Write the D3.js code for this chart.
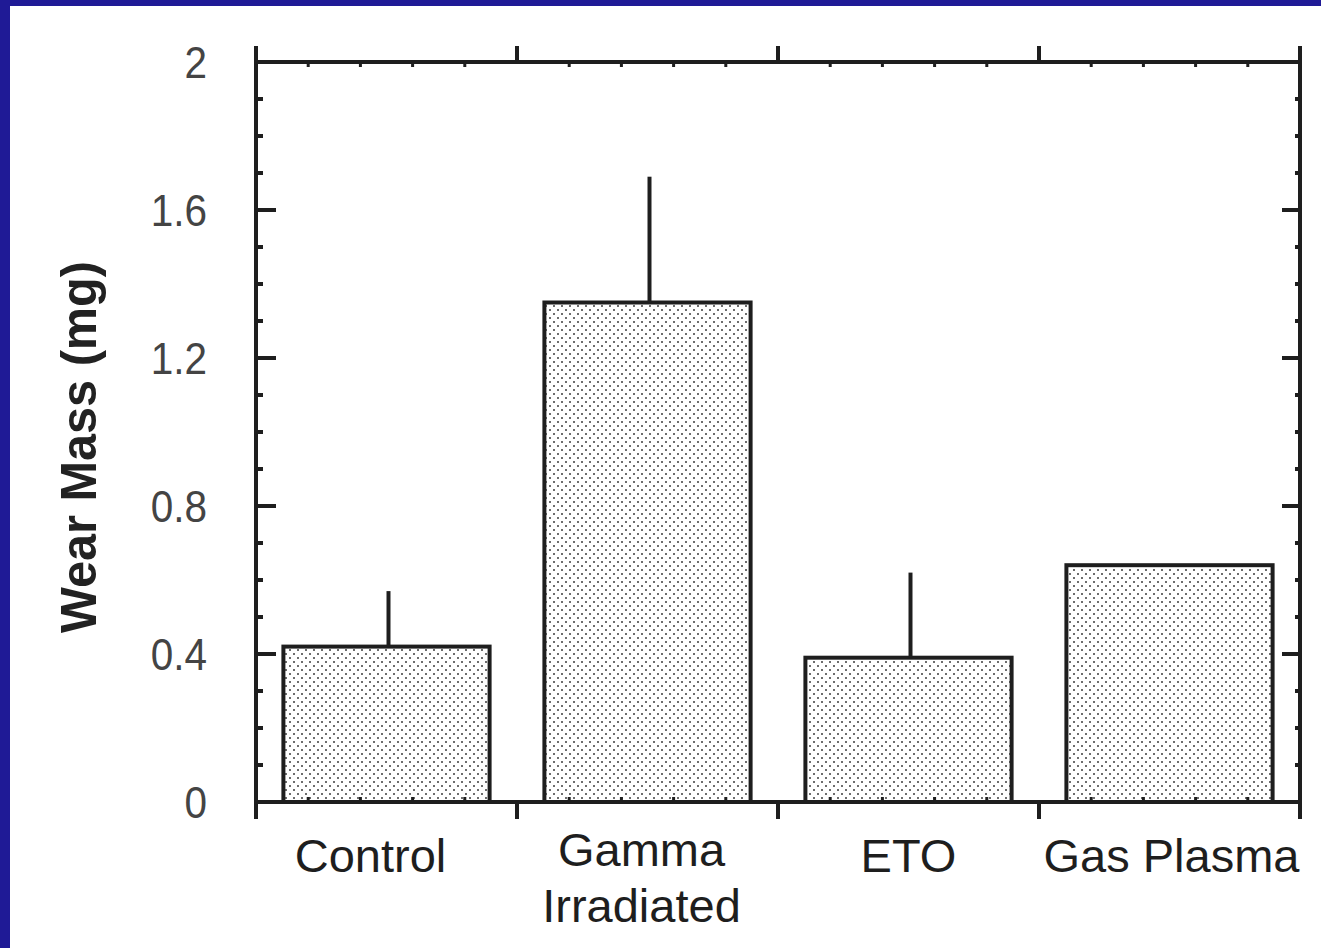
<!doctype html>
<html lang="en">
  <head>
    <meta charset="utf-8">
    <title>Wear Mass</title>
    <script src="https://d3js.org/d3.v7.min.js"></script>
    <style>
      body { margin: 0; background: #fff; }
      text { font-family: "Liberation Sans", Arial, sans-serif; }
    </style>
  </head>
  <body>
    <svg width="1321" height="948"></svg>
    <script>
      // data
      var categories = ['Control', 'Gamma', 'ETO', 'Gas Plasma'];
      var categoryLabels = [['Control'], ['Gamma', 'Irradiated'], ['ETO'], ['Gas Plasma']];
      var wearMass = [0.42, 1.35, 0.39, 0.64];
      var wearErr  = [0.15, 0.34, 0.23, 0];
      var yTicks = [0, 0.4, 0.8, 1.2, 1.6, 2];
      var yTickLabels = ['0', '0.4', '0.8', '1.2', '1.6', '2'];

      var svg = d3.select('svg');
      var plotL = 256, plotR = 1300, plotT = 62, plotB = 802;
      // the slide nudges a couple of labels off-centre
      var labelShift = [-16, -6, 0, 2];

      // blue slide frame
      svg.append('rect').attr('x', 0).attr('y', 0).attr('width', 1321).attr('height', 948).attr('fill', '#1f1a96');
      svg.append('rect').attr('x', 10).attr('y', 6).attr('width', 1311).attr('height', 942).attr('fill', '#fff');

      var defs = svg.append('defs');
      var pat = defs.append('pattern')
        .attr('id', 'dots')
        .attr('patternUnits', 'userSpaceOnUse')
        .attr('width', 8).attr('height', 8);
      pat.append('rect').attr('width', 8).attr('height', 8).attr('fill', '#fff');
      pat.append('circle').attr('cx', 2).attr('cy', 2).attr('r', 1).attr('fill', '#3c3c3c');
      pat.append('circle').attr('cx', 6).attr('cy', 6).attr('r', 1).attr('fill', '#3c3c3c');

      var x = d3.scaleBand()
        .domain(categories)
        .range([plotL, plotR])
        .paddingInner(0.21)
        .paddingOuter(0.105);

      var xb = d3.scaleLinear().domain([0, categories.length]).range([plotL, plotR]);
      var y = d3.scaleLinear().domain([0, 2]).range([plotB, plotT]);

      var ink = '#1e1e1e';

      // bars
      svg.selectAll('rect.bar')
        .data(wearMass)
        .enter()
        .append('rect')
          .attr('class', 'bar')
          .attr('x', function(d, i){ return x(categories[i]); })
          .attr('y', function(d){ return y(d); })
          .attr('width', x.bandwidth())
          .attr('height', function(d){ return y(0) - y(d); })
          .attr('fill', 'url(#dots)')
          .attr('stroke', ink)
          .attr('stroke-width', 4);

      // error bars, upward only
      var errIdx = d3.range(categories.length).filter(function(i){ return wearErr[i] > 0; });
      svg.selectAll('line.err')
        .data(errIdx)
        .enter()
        .append('line')
          .attr('class', 'err')
          .attr('x1', function(i){ return x(categories[i]) + x.bandwidth() / 2 + 2; })
          .attr('x2', function(i){ return x(categories[i]) + x.bandwidth() / 2 + 2; })
          .attr('y1', function(i){ return y(wearMass[i]); })
          .attr('y2', function(i){ return y(wearMass[i] + wearErr[i]); })
          .attr('stroke', ink)
          .attr('stroke-width', 4);

      // frame
      var frame = svg.append('g').attr('stroke', ink).attr('stroke-width', 4);
      frame.append('rect')
        .attr('x', plotL).attr('y', plotT)
        .attr('width', plotR - plotL).attr('height', plotB - plotT)
        .attr('fill', 'none');

      // x ticks: major outward, minor inward
      var xMajor = d3.range(0, categories.length + 1);
      var xMinor = d3.range(0, categories.length, 0.2).filter(function(v){ return Math.abs(v - Math.round(v)) > 1e-6; });
      xMajor.forEach(function(v){
        frame.append('line').attr('x1', xb(v)).attr('x2', xb(v)).attr('y1', plotB).attr('y2', plotB + 17);
        frame.append('line').attr('x1', xb(v)).attr('x2', xb(v)).attr('y1', plotT).attr('y2', plotT - 16);
      });
      xMinor.forEach(function(v){
        frame.append('line').attr('x1', xb(v)).attr('x2', xb(v)).attr('y1', plotB).attr('y2', plotB - 5).attr('stroke-width', 3);
        frame.append('line').attr('x1', xb(v)).attr('x2', xb(v)).attr('y1', plotT).attr('y2', plotT + 5).attr('stroke-width', 3);
      });

      // y ticks: major and minor inward on both sides
      var yMinor = d3.range(0.1, 2, 0.1).filter(function(v){ return Math.abs(v * 2.5 - Math.round(v * 2.5)) > 1e-6; });
      yTicks.forEach(function(v){
        frame.append('line').attr('x1', plotL).attr('x2', plotL + 20).attr('y1', y(v)).attr('y2', y(v));
        frame.append('line').attr('x1', plotR).attr('x2', plotR - 18).attr('y1', y(v)).attr('y2', y(v));
      });
      yMinor.forEach(function(v){
        frame.append('line').attr('x1', plotL).attr('x2', plotL + 7).attr('y1', y(v)).attr('y2', y(v));
        frame.append('line').attr('x1', plotR).attr('x2', plotR - 5).attr('y1', y(v)).attr('y2', y(v));
      });

      // y tick labels (thin, slightly narrow)
      svg.selectAll('text.ytick')
        .data(yTicks)
        .enter()
        .append('text')
          .attr('class', 'ytick')
          .attr('transform', function(d){ return 'translate(207,' + (y(d) + 16) + ') scale(0.9,1)'; })
          .attr('text-anchor', 'end')
          .attr('font-size', 45)
          .attr('fill', '#444')
          .text(function(d, i){ return yTickLabels[i]; });

      // category labels
      var catG = svg.selectAll('text.cat')
        .data(categories)
        .enter()
        .append('text')
          .attr('class', 'cat')
          .attr('text-anchor', 'middle')
          .attr('font-size', 47)
          .attr('fill', '#1e1e1e')
          .attr('transform', function(d, i){
            var base = categoryLabels[i].length > 1 ? 866 : 872;
            return 'translate(' + (x(d) + x.bandwidth() / 2 + labelShift[i]) + ',' + base + ')';
          });
      catG.each(function(d, i){
        var t = d3.select(this);
        categoryLabels[i].forEach(function(line, k){
          t.append('tspan').attr('x', 0).attr('dy', k === 0 ? 0 : 56).text(line);
        });
      });

      // y axis title
      svg.append('text')
        .attr('transform', 'translate(96,447) rotate(-90)')
        .attr('text-anchor', 'middle')
        .attr('font-size', 50)
        .attr('font-weight', 'bold')
        .attr('fill', '#222')
        .attr('textLength', 372)
        .attr('lengthAdjust', 'spacingAndGlyphs')
        .text('Wear Mass (mg)');
    </script>
  </body>
</html>
